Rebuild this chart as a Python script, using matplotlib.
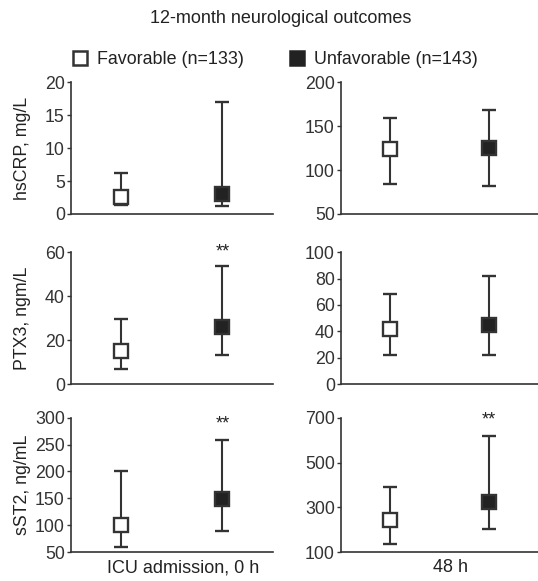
import numpy as np
import matplotlib
matplotlib.use("Agg")
import matplotlib.pyplot as plt
from matplotlib.lines import Line2D

plt.rcParams['font.family'] = ['Liberation Sans', 'DejaVu Sans']
plt.rcParams['font.size'] = 12.5
plt.rcParams['text.color'] = '#222222'
plt.rcParams['axes.labelcolor'] = '#222222'
plt.rcParams['xtick.color'] = '#333333'
plt.rcParams['ytick.color'] = '#333333'

# median, lower, upper for each marker (favorable / unfavorable)
ylabels = ["hsCRP, mg/L", "PTX3, ngm/L", "sST2, ng/mL"]
times = ["ICU admission, 0 h", "48 h"]

fav_med_0h = [2.6, 15.2, 100]
fav_lo_0h = [1.4, 6.8, 60]
fav_hi_0h = [6.2, 29.6, 200]
unf_med_0h = [3.1, 25.8, 148]
unf_lo_0h = [1.2, 13.2, 89]
unf_hi_0h = [17.0, 53.5, 258]

fav_med_48h = [124, 42, 242]
fav_lo_48h = [84, 22, 135]
fav_hi_48h = [159, 68, 392]
unf_med_48h = [125.5, 45, 325]
unf_lo_48h = [82, 22, 205]
unf_hi_48h = [168, 82, 618]

# significance marks: (row, col, y)
stars = [(1, 0, 60), (2, 0, 288), (2, 1, 690)]

ylims = [[(0, 20), (50, 200)], [(0, 60), (0, 100)], [(50, 300), (100, 700)]]
yticks = [[[0, 5, 10, 15, 20], [50, 100, 150, 200]],
          [[0, 20, 40, 60], [0, 20, 40, 60, 80, 100]],
          [[50, 100, 150, 200, 250, 300], [100, 300, 500, 700]]]

dark = '#222222'
edge = '#333333'

fig = plt.figure(figsize=(5.38, 5.81), dpi=100)
lefts = [0.132, 0.634]
widths = [0.375, 0.366]
bottoms = [0.6317, 0.339, 0.0499]
heights = [0.227, 0.227, 0.231]

data = {
    0: (fav_med_0h, fav_lo_0h, fav_hi_0h, unf_med_0h, unf_lo_0h, unf_hi_0h),
    1: (fav_med_48h, fav_lo_48h, fav_hi_48h, unf_med_48h, unf_lo_48h, unf_hi_48h),
}

for r in range(3):
    for c in range(2):
        ax = fig.add_axes([lefts[c], bottoms[r], widths[c], heights[r]])
        fm, fl, fh, um, ul, uh = data[c]
        for x, med, lo, hi, face in [(0, fm[r], fl[r], fh[r], 'white'),
                                     (1, um[r], ul[r], uh[r], dark)]:
            ax.errorbar([x], [med], yerr=[[med - lo], [hi - med]], fmt='s',
                        ms=9.4, mfc=face, mec=edge, mew=1.7, ecolor=edge,
                        elinewidth=1.5, capsize=5.2, capthick=1.5, zorder=3)
        ax.set_xlim(-0.5, 1.5)
        ax.set_ylim(*ylims[r][c])
        ax.set_yticks(yticks[r][c])
        ax.set_xticks([])
        for s in ['top', 'right']:
            ax.spines[s].set_visible(False)
        for s in ['left', 'bottom']:
            ax.spines[s].set_color(edge)
            ax.spines[s].set_linewidth(1.2)
        ax.tick_params(axis='y', length=3, width=1.0, pad=1.5, labelsize=12.8)
        ax.patch.set_alpha(0)
        for sr, sc, sy in stars:
            if sr == r and sc == c:
                ax.text(1, sy, '**', ha='center', va='center', fontsize=13)
        if c == 0:
            ax.set_ylabel(ylabels[r], fontsize=12.8)
            ax.yaxis.set_label_coords(-0.2, 0.5)
        if r == 2:
            ax.set_xlabel(times[c], fontsize=13)
            ax.xaxis.set_label_coords(0.555, -0.055)
            ax.xaxis.label.set_va('top')

fig.text(0.522, 0.969, '12-month neurological outcomes', ha='center',
         va='center', fontsize=13)

handles = [
    Line2D([], [], marker='s', ls='none', ms=10.5, mfc='white', mec=edge, mew=1.8),
    Line2D([], [], marker='s', ls='none', ms=10.5, mfc=dark, mec=dark, mew=1.8),
]
fig.legend(handles, ['Favorable (n=133)', 'Unfavorable (n=143)'], ncol=2,
           loc='center', bbox_to_anchor=(0.51, 0.897), frameon=False,
           handlelength=1.0, handletextpad=0.45, columnspacing=2.5,
           fontsize=12.9, borderpad=0, borderaxespad=0)

fig.savefig('out.png', dpi=100)
